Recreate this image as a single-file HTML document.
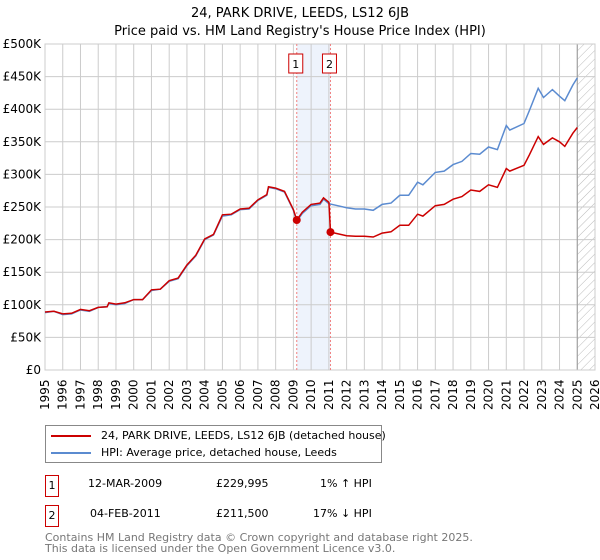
<!DOCTYPE html>
<html><head><meta charset="utf-8"><style>
body{margin:0;background:#fff;font-family:"DejaVu Sans","Liberation Sans",sans-serif;}
#wrap{position:relative;width:600px;height:560px;overflow:hidden;}
.t{position:absolute;font-size:11px;color:#000;white-space:nowrap;}
svg text{font-family:"DejaVu Sans","Liberation Sans",sans-serif;}
</style></head><body><div id="wrap">
<svg id="chart" width="600" height="420" style="position:absolute;left:0;top:0"></svg>
<div style="position:absolute;left:45px;top:425px;width:335px;height:36px;border:1px solid #888;">
 <div style="position:absolute;left:5px;top:3px;font-size:11px;white-space:nowrap"><span style="display:inline-block;width:40px;height:2px;background:#cc0000;vertical-align:middle;margin-right:10px"></span>24, PARK DRIVE, LEEDS, LS12 6JB (detached house)</div>
 <div style="position:absolute;left:5px;top:20px;font-size:11px;white-space:nowrap"><span style="display:inline-block;width:40px;height:2px;background:#5b8bd0;vertical-align:middle;margin-right:10px"></span>HPI: Average price, detached house, Leeds</div>
</div>
<div style="position:absolute;left:45px;top:475px;width:12px;height:20px;border:1px solid #cc0000;font-size:11px;text-align:center;line-height:20px">1</div>
<div class="t" style="left:88px;top:477px">12-MAR-2009</div>
<div class="t" style="left:216px;top:477px">£229,995</div>
<div class="t" style="left:320px;top:477px">1% ↑ HPI</div>
<div style="position:absolute;left:45px;top:505px;width:12px;height:20px;border:1px solid #cc0000;font-size:11px;text-align:center;line-height:20px">2</div>
<div class="t" style="left:90px;top:507px">04-FEB-2011</div>
<div class="t" style="left:216px;top:507px">£211,500</div>
<div class="t" style="left:313px;top:507px">17% ↓ HPI</div>
<div class="t" style="left:45px;top:532px;color:#777;font-size:11px;line-height:11px">Contains HM Land Registry data © Crown copyright and database right 2025.<br>This data is licensed under the Open Government Licence v3.0.</div>
</div>
<script>
const yearTicks=[1995,1996,1997,1998,1999,2000,2001,2002,2003,2004,2005,2006,2007,2008,2009,2010,2011,2012,2013,2014,2015,2016,2017,2018,2019,2020,2021,2022,2023,2024,2025,2026];
const valueTicks=[0,50,100,150,200,250,300,350,400,450,500];
const hpiYears=[1995,1995.5,1996,1996.5,1997,1997.5,1998,1998.5,1998.6,1999,1999.5,2000,2000.5,2001,2001.5,2002,2002.5,2003,2003.5,2004,2004.5,2005,2005.5,2006,2006.5,2007,2007.5,2007.6,2008,2008.5,2009,2009.19,2009.5,2010,2010.5,2010.7,2011,2011.5,2012,2012.5,2013,2013.5,2014,2014.5,2015,2015.5,2016,2016.3,2017,2017.5,2018,2018.5,2019,2019.5,2020,2020.5,2021,2021.2,2022,2022.3,2022.8,2023.1,2023.6,2024,2024.3,2024.75,2025];
const hpiValues=[88,90,85,86,92,90,96,97,102,100,102,108,108,122,124,136,140,160,175,200,207,236,238,246,247,260,268,280,278,273,245,228,240,252,254,262,255,252,249,247,247,245,254,256,268,268,288,284,303,305,315,320,332,331,342,338,375,368,378,398,432,418,430,420,413,437,448];
const priceYears=[1995,1995.5,1996,1996.5,1997,1997.5,1998,1998.5,1998.6,1999,1999.5,2000,2000.5,2001,2001.5,2002,2002.5,2003,2003.5,2004,2004.5,2005,2005.5,2006,2006.5,2007,2007.5,2007.6,2008,2008.5,2009,2009.19,2009.5,2010,2010.5,2010.7,2011,2011.09,2012,2012.5,2013,2013.5,2014,2014.5,2015,2015.5,2016,2016.3,2017,2017.5,2018,2018.5,2019,2019.5,2020,2020.5,2021,2021.2,2022,2022.3,2022.8,2023.1,2023.6,2024,2024.3,2024.75,2025];
const priceValues=[89,90,86,87,93,91,96,97,103,101,103,108,108,123,124,137,141,161,176,201,208,238,239,247,248,261,269,281,279,274,246,230,242,254,256,264,257,211.5,206,205,205,204,210,212,222,222,239,236,252,254,262,266,276,274,284,280,309,305,314,330,358,346,356,350,343,363,372];
const saleYears=[2009.19,2011.09];
const saleValues=[229.995,211.5];
const saleLabels=["1","2"];

const svg=document.getElementById('chart');const NS='http://www.w3.org/2000/svg';
const X0=45,X1=595,Y0=370,Y1=44;
const xs=y=>X0+(y-1995)*(X1-X0)/31;
const ys=v=>Y0-v*(Y0-Y1)/500;
function mk(tag,attrs,name){const e=document.createElementNS(NS,tag);for(const k in attrs)e.setAttribute(k,attrs[k]);


svg.appendChild(e);return e;}
const defs=document.createElementNS(NS,'defs');defs.innerHTML='<pattern id="hatch" width="6" height="6" patternUnits="userSpaceOnUse" patternTransform="rotate(45)"><line x1="0" y1="0" x2="0" y2="6" stroke="#bbb" stroke-width="1"/></pattern>';svg.appendChild(defs);
mk('rect',{x:xs(saleYears[0]),y:Y1,width:xs(saleYears[1])-xs(saleYears[0]),height:Y0-Y1,fill:'#eef3fc'},'ownership-band');
mk('rect',{x:xs(2025),y:Y1,width:X1-xs(2025),height:Y0-Y1,fill:'url(#hatch)'},'forecast-hatch');
yearTicks.forEach(y=>{mk('line',{x1:xs(y),x2:xs(y),y1:Y1,y2:Y0,stroke:'#ccc','stroke-width':1},'x-gridline');
const t=mk('text',{x:0,y:0,'font-size':12,transform:`translate(${xs(y)+4},${Y0+40}) rotate(-90)`},'x-tick-label');t.textContent=y;});
valueTicks.forEach(v=>{mk('line',{x1:X0,x2:X1,y1:ys(v),y2:ys(v),stroke:'#ccc','stroke-width':1},'y-gridline');
const t=mk('text',{x:X0-4,y:ys(v)+4,'font-size':12,'text-anchor':'end'},'y-tick-label');t.textContent=v===0?'£0':'£'+v+'K';});
mk('line',{x1:xs(2025),x2:xs(2025),y1:Y1,y2:Y0,stroke:'#999','stroke-width':1},'data-end-line');
mk('rect',{x:X0,y:Y1,width:X1-X0,height:Y0-Y1,fill:'none',stroke:'#ccc'},'plot-frame');
saleYears.forEach((y,i)=>{mk('line',{x1:xs(y),x2:xs(y),y1:Y1,y2:Y0,stroke:'#f08080','stroke-width':1,'stroke-dasharray':'2,2'},'sale-marker-line');
mk('rect',{x:xs(y)-8,y:54,width:14,height:19,fill:'#fff',stroke:'#cc0000'},'sale-marker-box');
const t=mk('text',{x:xs(y)-1,y:68,'font-size':11,'text-anchor':'middle'},'sale-marker-label');t.textContent=saleLabels[i];});
mk('path',{d:hpiYears.map((y,i)=>(i?'L':'M')+xs(y).toFixed(1)+','+ys(hpiValues[i]).toFixed(1)).join(''),fill:'none',stroke:'#5b8bd0','stroke-width':1.5},'hpi-line');
mk('path',{d:priceYears.map((y,i)=>(i?'L':'M')+xs(y).toFixed(1)+','+ys(priceValues[i]).toFixed(1)).join(''),fill:'none',stroke:'#cc0000','stroke-width':1.5},'price-line');
saleYears.forEach((y,i)=>mk('circle',{cx:xs(y),cy:ys(saleValues[i]),r:4,fill:'#cc0000'},'sale-point'));
let t=mk('text',{x:300,y:17,'font-size':13,'text-anchor':'middle'},'chart-title');t.textContent='24, PARK DRIVE, LEEDS, LS12 6JB';
t=mk('text',{x:300,y:35,'font-size':13,'text-anchor':'middle'},'chart-subtitle');t.textContent="Price paid vs. HM Land Registry's House Price Index (HPI)";
</script></body></html>
